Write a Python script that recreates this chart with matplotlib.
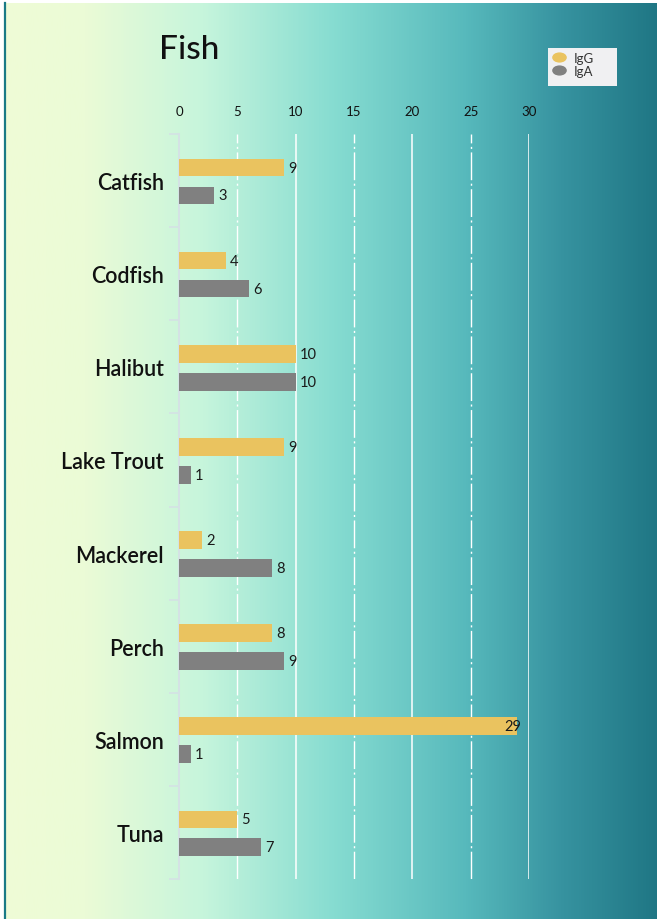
import numpy as np
import matplotlib.pyplot as plt
from matplotlib.colors import LinearSegmentedColormap
from matplotlib.lines import Line2D
from matplotlib.patches import Rectangle
from matplotlib.path import Path

plt.rcParams['font.family'] = ['Lato', 'DejaVu Sans']

fish = ['Catfish', 'Codfish', 'Halibut', 'Lake Trout', 'Mackerel', 'Perch', 'Salmon', 'Tuna']
igg = [9, 4, 10, 9, 2, 8, 29, 5]
iga = [3, 6, 10, 1, 8, 9, 1, 7]
x_ticks = [0, 5, 10, 15, 20, 25, 30]

fig = plt.figure(figsize=(6.57, 9.2), dpi=100)

# background gradient
bg = fig.add_axes([5 / 657, -0.01, 1 - 5 / 657 + 0.01, 1.01 - 4 / 920])
cmap = LinearSegmentedColormap.from_list('bg', [
    (0.0, '#effcd6'), (0.12, '#ebfbd6'), (0.3, '#c6f5dc'),
    (0.5, '#86dcd1'), (0.7, '#57b9bc'), (0.85, '#36929f'), (1.0, '#1e7583')])
bg.imshow(np.linspace(0, 1, 512).reshape(1, -1), cmap=cmap, aspect='auto',
          extent=[0, 1, 0, 1])
bg.axis('off')
fig.add_artist(Line2D([4.5 / 657, 4.5 / 657], [0, 1 - 4 / 920], color='#1a7a86', lw=1.6))

ax = fig.add_axes([179 / 657, 1 - 880 / 920, 350 / 657, 745 / 920])
ax.patch.set_alpha(0)
pos = np.arange(len(fish))
h = 0.19
ax.barh(pos - 0.14, igg, height=h, color='#eac35f', zorder=3, label='IgG')
ax.barh(pos + 0.16, iga, height=h, color='#808080', zorder=3, label='IgA')

for i in range(len(fish)):
    for v, off in ((igg[i], -0.14), (iga[i], 0.16)):
        if v > 25:
            ax.text(v + 0.3, pos[i] + off, str(v), ha='right', va='center', fontsize=10.5, color='#1a1a1a', zorder=4)
        else:
            ax.text(v + 0.35, pos[i] + off, str(v), ha='left', va='center', fontsize=10.5, color='#1a1a1a', zorder=4)

ax.set_xlim(0, 30)
ax.set_ylim(len(fish) - 0.5, -0.5)

for t in x_ticks[1:]:
    if t % 10 == 0:
        ax.axvline(t, color='white', lw=1.1, zorder=1)
    else:
        ax.axvline(t, color='white', lw=1.0, linestyle=(0, (20, 2.5, 1.5, 2.5)), zorder=1)

ax.xaxis.tick_top()
ax.set_xticks(x_ticks)
ax.tick_params(axis='x', length=0, pad=12, labelsize=9.5, labelcolor='#111111')
ax.set_yticks(pos)
ax.set_yticklabels(fish, fontsize=15.5, fontweight='semibold', color='#111111')
ax.set_yticks(np.arange(len(fish) + 1) - 0.5, minor=True)
ax.tick_params(axis='y', which='major', length=0, pad=11)
ax.tick_params(axis='y', which='minor', length=7, color='#d4e2e4', width=1.2)
for s in ['top', 'right', 'bottom']:
    ax.spines[s].set_visible(False)
ax.spines['left'].set_color('#d4e2e4')
ax.spines['left'].set_linewidth(1.5)

fig.text(189 / 657, 1 - 50 / 920, 'Fish', ha='center', va='center', fontsize=24, fontweight='medium', color='#111111')

# legend box
fig.add_artist(Rectangle((548 / 657, 1 - 87 / 920), 69 / 657, 38 / 920,
                         transform=fig.transFigure, facecolor='#f0f0f2', edgecolor='none'))
oval = Path(Path.unit_circle().vertices * np.array([1.5, 1.0]), Path.unit_circle().codes)
handles = [Line2D([], [], linestyle='none', marker=oval, markersize=9.5, color='#eac35f'),
           Line2D([], [], linestyle='none', marker=oval, markersize=9.5, color='#808080')]
leg = fig.legend(handles, ['IgG', 'IgA'], loc='upper left',
                 bbox_to_anchor=(551 / 657, 1 - 53 / 920), frameon=False,
                 fontsize=9.5, borderpad=0, labelspacing=0.05, handlelength=1.2,
                 handletextpad=0.5, borderaxespad=0)
for t in leg.get_texts():
    t.set_color('#333333')

fig.savefig('out.png', dpi=100)
